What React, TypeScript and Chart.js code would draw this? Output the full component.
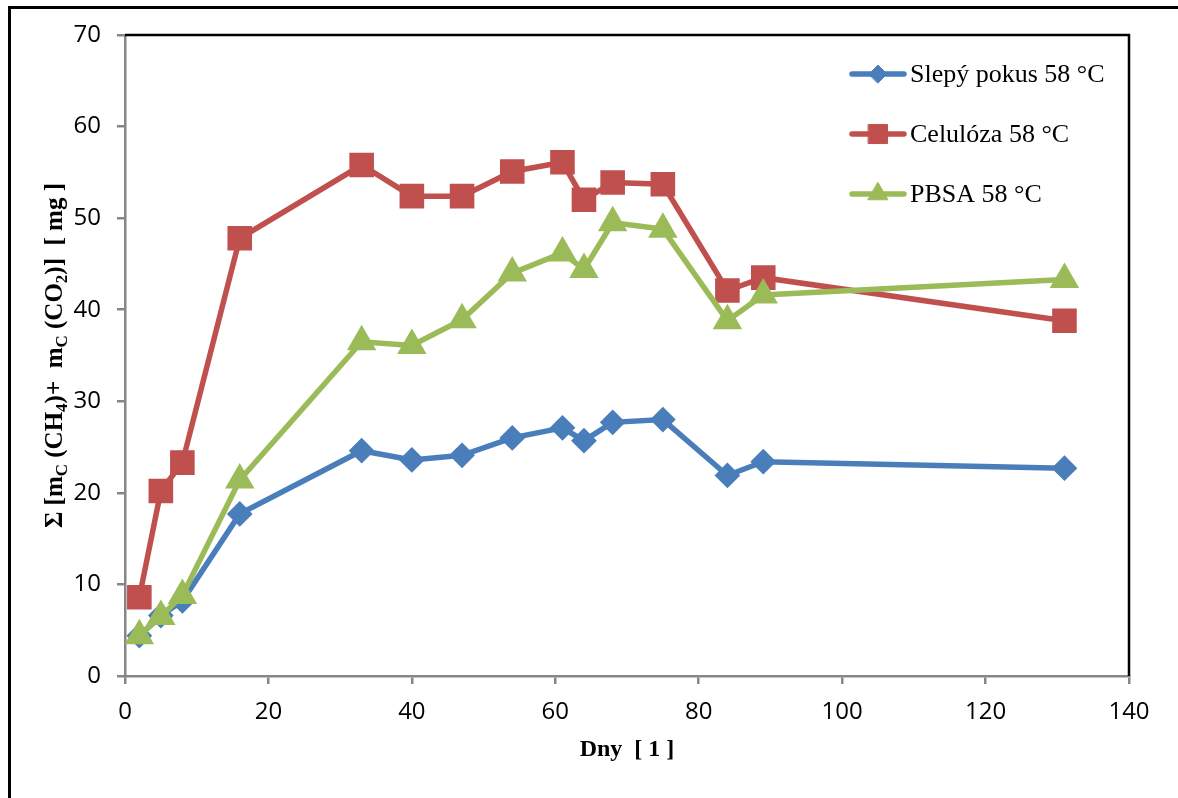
import React, { useEffect, useRef } from "react";
import { Chart, registerables } from "chart.js";
import { drawPoint } from "chart.js/helpers";

Chart.register(...registerables);

const days = [2, 5, 8, 16, 33, 40, 47, 54, 61, 64, 68, 75, 84, 89, 131];
const slepyPokus = [4.4, 6.6, 8.2, 17.7, 24.6, 23.6, 24.1, 26.0, 27.1, 25.7, 27.7, 28.0, 21.9, 23.4, 22.7];
const celuloza = [8.6, 20.2, 23.3, 47.8, 55.8, 52.4, 52.4, 55.1, 56.1, 52.0, 53.9, 53.7, 42.1, 43.5, 38.8];
const pbsa = [4.4, 6.5, 8.8, 21.4, 36.5, 36.1, 38.9, 44.0, 46.2, 44.4, 49.5, 48.8, 38.8, 41.6, 43.3];

const seriesNames = ["Slepý pokus 58 °C", "Celulóza 58 °C", "PBSA 58 °C"];
const xTitle = "Dny  [ 1 ]";

const BLUE = "#4A7EBB";
const RED = "#C0504D";
const GREEN = "#9BBB59";

const toXY = (ys: number[]) => days.map((d, i) => ({ x: d, y: ys[i] }));

const decorPlugin = {
  id: "decor",
  beforeDraw(chart: any) {
    const ctx = chart.ctx;
    ctx.save();
    ctx.fillStyle = "#fff";
    ctx.fillRect(0, 0, chart.width, chart.height);
    ctx.fillStyle = "#000";
    ctx.fillRect(8, 6, chart.width - 8, 3);
    ctx.fillRect(8, 6, 3, chart.height - 6);
    ctx.restore();
  },
  afterDraw(chart: any) {
    const ctx = chart.ctx;
    const a = chart.chartArea;
    ctx.save();
    ctx.strokeStyle = "#000";
    ctx.lineWidth = 2.5;
    ctx.beginPath();
    ctx.moveTo(a.left, a.top);
    ctx.lineTo(a.right, a.top);
    ctx.lineTo(a.right, a.bottom);
    ctx.stroke();

    const ys = [74, 134, 194];
    chart.data.datasets.forEach((ds: any, i: number) => {
      const y = ys[i];
      ctx.strokeStyle = ds.borderColor;
      ctx.lineWidth = 5.5;
      ctx.lineCap = "round";
      ctx.beginPath();
      ctx.moveTo(852, y);
      ctx.lineTo(904, y);
      ctx.stroke();
      ctx.fillStyle = ds.pointBackgroundColor;
      ctx.strokeStyle = ds.pointBorderColor;
      ctx.lineWidth = 1;
      drawPoint(ctx, { pointStyle: ds.pointStyle, radius: ds.pointRadius, borderWidth: 1, rotation: 0 }, 878, y);
      ctx.fillStyle = "#000";
      ctx.font = "26px 'Liberation Serif'";
      ctx.textBaseline = "middle";
      ctx.textAlign = "left";
      ctx.fillText(ds.label, 910, y + 1);
    });

    ctx.fillStyle = "#000";
    ctx.font = "bold 24px 'Liberation Serif'";
    ctx.textAlign = "center";
    ctx.textBaseline = "middle";
    ctx.fillText(xTitle, (a.left + a.right) / 2, 750);

    const segs: [string, boolean][] = [
      ["Σ [m", false], ["C", true], [" (CH", false], ["4", true], [")+  m", false],
      ["C", true], [" (CO", false], ["2", true], [")]  [ mg ]", false],
    ];
    const mainFont = "bold 25px 'Liberation Serif'";
    const subFont = "bold 17px 'Liberation Serif'";
    let total = 0;
    const widths = segs.map(([t, s]) => {
      ctx.font = s ? subFont : mainFont;
      const w = ctx.measureText(t).width;
      total += w;
      return w;
    });
    ctx.translate(62, (a.top + a.bottom) / 2);
    ctx.rotate(-Math.PI / 2);
    ctx.textAlign = "left";
    ctx.textBaseline = "alphabetic";
    let x = -total / 2;
    segs.forEach(([t, s], i) => {
      ctx.font = s ? subFont : mainFont;
      ctx.fillText(t, x, s ? 5 : 0);
      x += widths[i];
    });
    ctx.restore();
  },
};

export default function App() {
  const ref = useRef<HTMLCanvasElement>(null);
  useEffect(() => {
    if (!ref.current) return;
    const tickFont = { family: "'Open Sans'", size: 24 };
    const chart = new Chart(ref.current, {
      type: "line",
      data: {
        datasets: [
          {
            label: seriesNames[0],
            data: toXY(slepyPokus),
            borderColor: BLUE,
            backgroundColor: BLUE,
            pointBackgroundColor: BLUE,
            pointBorderColor: BLUE,
            pointStyle: "rectRot",
            pointRadius: 9,
            borderWidth: 5.5,
            order: 2,
          },
          {
            label: seriesNames[1],
            data: toXY(celuloza),
            borderColor: RED,
            backgroundColor: RED,
            pointBackgroundColor: RED,
            pointBorderColor: RED,
            pointStyle: "rect",
            pointRadius: 13.5,
            borderWidth: 5.5,
            order: 1,
          },
          {
            label: seriesNames[2],
            data: toXY(pbsa),
            borderColor: GREEN,
            backgroundColor: GREEN,
            pointBackgroundColor: GREEN,
            pointBorderColor: GREEN,
            pointStyle: "triangle",
            pointRadius: 11.5,
            borderWidth: 5.5,
            order: 0,
          },
        ],
      },
      options: {
        animation: false,
        responsive: false,
        maintainAspectRatio: false,
        layout: { padding: { left: 0, top: 35, right: 49, bottom: 0 } },
        plugins: {
          legend: { display: false },
          tooltip: { enabled: false },
        },
        elements: { line: { tension: 0 } },
        scales: {
          x: {
            type: "linear",
            min: 0,
            max: 140,
            ticks: { stepSize: 20, font: tickFont, color: "#000", padding: 14, maxRotation: 0 },
            grid: { drawOnChartArea: false, drawTicks: true, tickLength: 8, color: "#868686", lineWidth: 2.5 },
            border: { color: "#868686", width: 2.5 },
            afterFit: (s: any) => { s.height = 122; },
          },
          y: {
            type: "linear",
            min: 0,
            max: 70,
            ticks: { stepSize: 10, font: tickFont, color: "#000", padding: 16 },
            grid: { drawOnChartArea: false, drawTicks: true, tickLength: 8, color: "#868686", lineWidth: 2.5 },
            border: { color: "#868686", width: 2.5 },
            afterFit: (s: any) => { s.width = 125; },
          },
        },
      },
      plugins: [decorPlugin],
    } as any);
    return () => chart.destroy();
  }, []);
  return (
    <div style={{ position: "fixed", left: 0, top: 0, width: 1178, height: 798 }}>
      <canvas ref={ref} width={1178} height={798} style={{ width: 1178, height: 798, display: "block" }} />
    </div>
  );
}
